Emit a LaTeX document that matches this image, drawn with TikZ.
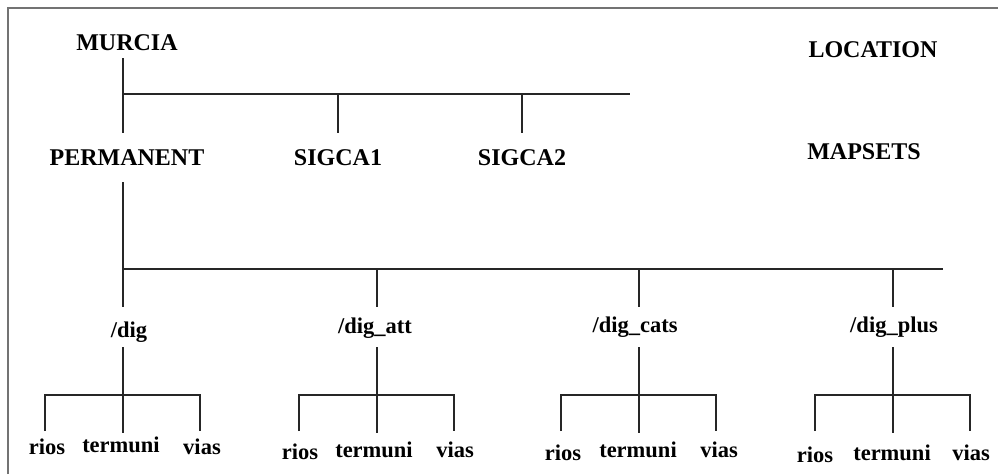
\documentclass[tikz,border=0pt]{standalone}
\usepackage{fontspec}
\setmainfont{Liberation Serif}
\begin{document}
\begin{tikzpicture}[x=1pt,y=-1pt,
  lbl/.style={anchor=base,inner sep=0pt,font=\bfseries\fontsize{22.5}{27}\selectfont},
  biglbl/.style={lbl,font=\bfseries\fontsize{24}{28}\selectfont},
  wire/.style={line width=1.5pt,black!85},
  frame/.style={line width=2pt,black!55}]
\useasboundingbox (0,0) rectangle (998,474);
% page frame (top and left edges)
\draw[frame] (8,474) -- (8,8) -- (998,8);

% ---- labels ----
\node[biglbl] (murcia)   at (127,50)  {MURCIA};
\node[biglbl] (location) at (873,57)  {LOCATION};
\node[biglbl] (perm)     at (127,165) {PERMANENT};
\node[biglbl] (sig1)     at (338,165) {SIGCA1};
\node[biglbl] (sig2)     at (522,165) {SIGCA2};
\node[biglbl] (mapsets)  at (864,159) {MAPSETS};

\node[lbl] (dig)  at (129,337) {/dig};
\node[lbl] (att)  at (375,333) {/dig\_att};
\node[lbl] (cats) at (635,332) {/dig\_cats};
\node[lbl] (plus) at (894,332) {/dig\_plus};

\node[lbl] (dig-r) at (47,454)  {rios};
\node[lbl] (dig-t) at (121,452) {termuni};
\node[lbl] (dig-v) at (202,454) {vias};
\node[lbl] (att-r) at (300,459) {rios};
\node[lbl] (att-t) at (374,457) {termuni};
\node[lbl] (att-v) at (455,457) {vias};
\node[lbl] (cats-r) at (563,460) {rios};
\node[lbl] (cats-t) at (638,457) {termuni};
\node[lbl] (cats-v) at (719,457) {vias};
\node[lbl] (plus-r) at (815,462) {rios};
\node[lbl] (plus-t) at (892,460) {termuni};
\node[lbl] (plus-v) at (971,460) {vias};

% ---- junction points ----
\coordinate (m-top)  at (123,58);
\coordinate (m-bot)  at (123,133);
\coordinate (busA-e) at (630,94);
\coordinate (busA-s) at (123,94);
\coordinate (s1-top) at (338,94);
\coordinate (s1-bot) at (338,133);
\coordinate (s2-top) at (522,94);
\coordinate (s2-bot) at (522,133);

\coordinate (p-top)  at (123,182);
\coordinate (p-bot)  at (123,307);
\coordinate (busB-s) at (123,269);
\coordinate (busB-e) at (943,269);

% top level tree
\draw[wire] (m-top) -- (m-bot);
\draw[wire] (busA-s) -- (busA-e);
\draw[wire] (s1-top) -- (s1-bot);
\draw[wire] (s2-top) -- (s2-bot);

% mapset tree
\draw[wire] (p-top) -- (p-bot);
\draw[wire] (busB-s) -- (busB-e);
\foreach \cx/\nm in {377/att,639/cats,893/plus}{
  \coordinate (\nm-up) at (\cx,269);
  \coordinate (\nm-dn) at (\cx,307);
  \draw[wire] (\nm-up) -- (\nm-dn);
}

% layer subtrees
\foreach \cx/\nm in {123/dig,377/att,639/cats,893/plus}{
  \coordinate (\nm-a) at (\cx,347);
  \coordinate (\nm-b) at (\cx,433);
  \coordinate (\nm-l) at (\cx-78,395);
  \coordinate (\nm-r) at (\cx+77,395);
  \coordinate (\nm-ll) at (\cx-78,431);
  \coordinate (\nm-rr) at (\cx+77,431);
  \draw[wire] (\nm-a) -- (\nm-b);
  \draw[wire] (\nm-ll) -- (\nm-l) -- (\nm-r) -- (\nm-rr);
}
\end{tikzpicture}
\end{document}
